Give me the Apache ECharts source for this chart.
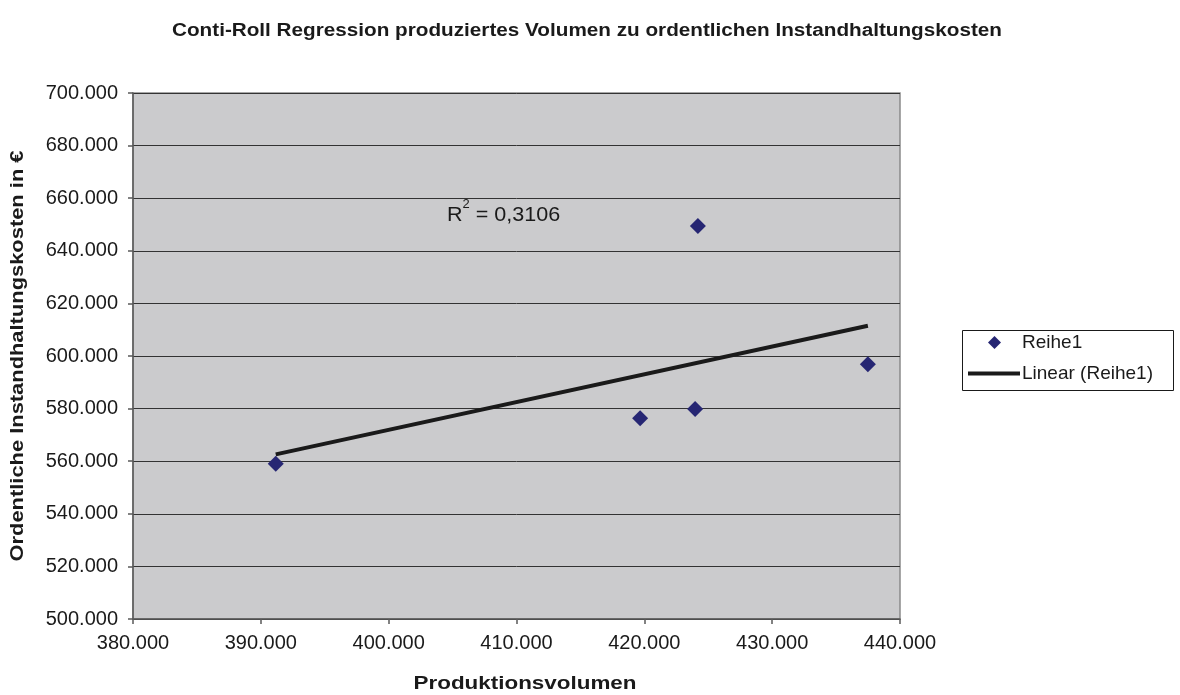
<!DOCTYPE html>
<html>
<head>
<meta charset="utf-8">
<script src="https://cdn.jsdelivr.net/npm/echarts@6/dist/echarts.min.js"></script>
<style>
  html, body { margin: 0; padding: 0; background: #ffffff; }
  #chart { width: 1180px; height: 695px; }
</style>
</head>
<body>
<div id="chart"></div>
<script>
// Produktionsvolumen (x) und ordentliche Instandhaltungskosten in € (y)
const volumen = [391166, 419671, 423975, 424186, 437488];
const kosten  = [559050, 576312, 579848, 649430, 596844];
const seriesName = 'Reihe1';
const trendName = 'Linear (Reihe1)';
const rSquaredText = '0,3106';
const titleText = 'Conti-Roll Regression produziertes Volumen zu ordentlichen Instandhaltungskosten';
const xName = 'Produktionsvolumen';
const yName = 'Ordentliche Instandhaltungskosten in €';

// Lineare Regression (kleinste Quadrate) über die Messpunkte
function linearFit(xs, ys) {
  const n = xs.length;
  const mx = xs.reduce((a, b) => a + b, 0) / n;
  const my = ys.reduce((a, b) => a + b, 0) / n;
  let sxy = 0, sxx = 0;
  for (let i = 0; i < n; i++) {
    sxy += (xs[i] - mx) * (ys[i] - my);
    sxx += (xs[i] - mx) * (xs[i] - mx);
  }
  const slope = sxy / sxx;
  return x => my + slope * (x - mx);
}
const fit = linearFit(volumen, kosten);
const xMin = Math.min(...volumen), xMax = Math.max(...volumen);
const trend = [[xMin, fit(xMin)], [xMax, fit(xMax)]];

// Tausendertrennzeichen als Punkt
const fmt = v => String(Math.round(v)).replace(/\B(?=(\d{3})+(?!\d))/g, '.');
const FONT = '"Liberation Sans", Arial, sans-serif';
const INK = '#1a1a1a';

// Horizontale Streckung, damit ein Text eine bestimmte Breite einnimmt
const measureCtx = document.createElement('canvas').getContext('2d');
function stretchTo(text, size, weight, width) {
  measureCtx.font = weight + ' ' + size + 'px ' + FONT;
  return width / measureCtx.measureText(text).width;
}

function headline(text, x, y, size, width, rotation) {
  return {
    type: 'text',
    x: x, y: y,
    rotation: rotation || 0,
    scaleX: stretchTo(text, size, 'bold', width),
    style: {
      text: text,
      fontFamily: FONT, fontSize: size, fontWeight: 'bold', fill: INK,
      align: 'center', verticalAlign: 'middle'
    }
  };
}

const rLabel = 'R2 = ' + rSquaredText;

const chart = echarts.init(document.getElementById('chart'), null, { renderer: 'canvas' });
chart.setOption({
  animation: false,
  backgroundColor: '#ffffff',
  textStyle: { fontFamily: FONT },
  grid: {
    left: 133, right: 280, top: 93, bottom: 76,
    outerBoundsMode: 'none',
    containLabel: false,
    show: true,
    backgroundColor: '#cbcbcd',
    borderColor: '#8a8a8a',
    borderWidth: 1.5
  },
  legend: [
    {
      orient: 'vertical',
      left: 988,
      top: 333,
      padding: 0,
      itemWidth: 13,
      itemHeight: 13,
      symbolKeepAspect: true,
      textStyle: { fontFamily: FONT, fontSize: 19, color: INK, padding: [0, 0, 0, 16] },
      data: [{ name: seriesName, icon: 'diamond' }]
    },
    {
      orient: 'vertical',
      left: 968,
      top: 364,
      padding: 0,
      itemWidth: 52,
      itemHeight: 4,
      textStyle: { fontFamily: FONT, fontSize: 19, color: INK, padding: [0, 0, 0, -3] },
      data: [{ name: trendName, icon: 'rect', itemStyle: { color: INK } }]
    }
  ],
  xAxis: {
    type: 'value',
    min: 380000, max: 440000, interval: 10000,
    axisLine: { show: true, lineStyle: { color: '#5a5a5a', width: 1.5 } },
    axisTick: { show: true, inside: false, length: 5, lineStyle: { color: '#5a5a5a', width: 1.5 } },
    axisLabel: { fontFamily: FONT, fontSize: 20, color: INK, margin: 14, formatter: fmt },
    splitLine: { show: false }
  },
  yAxis: {
    type: 'value',
    min: 500000, max: 700000, interval: 20000,
    axisLine: { show: true, lineStyle: { color: '#5a5a5a', width: 1.5 } },
    axisTick: { show: true, inside: false, length: 5, lineStyle: { color: '#5a5a5a', width: 1.5 } },
    axisLabel: { fontFamily: FONT, fontSize: 20, color: INK, margin: 15, formatter: fmt },
    splitLine: { show: true, lineStyle: { color: '#333333', width: 1 } }
  },
  series: [
    {
      name: seriesName,
      type: 'scatter',
      symbol: 'diamond',
      symbolSize: 16,
      itemStyle: { color: '#262673', opacity: 1 },
      data: volumen.map((x, i) => [x, kosten[i]]),
      z: 3
    },
    {
      name: trendName,
      type: 'line',
      symbol: 'none',
      lineStyle: { color: INK, width: 4 },
      itemStyle: { color: INK },
      data: trend,
      z: 2
    }
  ],
  graphic: [
    // Rahmen der Legende
    {
      type: 'rect',
      left: 962,
      top: 330,
      shape: { width: 211, height: 60 },
      style: { fill: '#ffffff', stroke: INK, lineWidth: 1 },
      z: -1
    },
    // Diagrammtitel und Achsentitel
    headline(titleText, 587, 31, 18, 830),
    headline(xName, 525, 684, 18, 223),
    headline(yName, 18, 356, 18, 411, Math.PI / 2),
    // Bestimmtheitsmaß der Trendlinie
    {
      type: 'text',
      x: 447,
      y: 199,
      scaleX: stretchTo(rLabel, 20, 'normal', 118),
      style: {
        text: '{r|R}{s|2}{r| = ' + rSquaredText + '}',
        rich: {
          r: { fontFamily: FONT, fontSize: 20, fill: INK, verticalAlign: 'bottom', lineHeight: 26 },
          s: { fontFamily: FONT, fontSize: 12, fill: INK, verticalAlign: 'top', lineHeight: 26, padding: [0, 0, 13, 0] }
        }
      }
    }
  ]
});
</script>
</body>
</html>
